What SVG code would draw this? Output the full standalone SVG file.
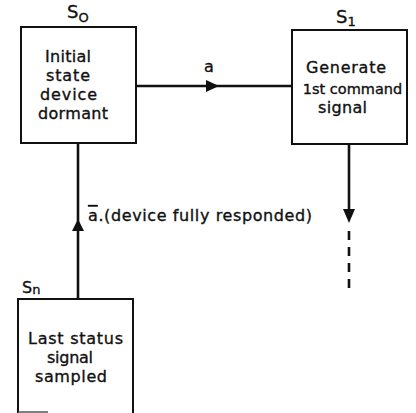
<svg xmlns="http://www.w3.org/2000/svg" width="416" height="413" viewBox="0 0 416 413">
<style>
.box{fill:#fff;stroke:#111;stroke-width:2}
.ln{stroke:#111;stroke-width:2.6;fill:none}
.hd{fill:#111}
text{font-family:"DejaVu Sans","Liberation Sans",sans-serif;fill:#111;stroke:#111;stroke-width:0.35}
.t{font-size:16px;text-anchor:middle}
.lab{font-size:18px}
.sub{font-size:13px}
.el{font-size:16px}
</style>
<rect width="416" height="413" fill="#fff"/>
<g id="connectors">
<line class="ln" x1="136" y1="86" x2="292" y2="86"/>
<polygon class="hd" points="206,80 219,86 206,92"/>
<line class="ln" x1="78" y1="143" x2="78" y2="299"/>
<polygon class="hd" points="72,231 78,219 84,231"/>
<line class="ln" x1="349" y1="144" x2="349" y2="215"/>
<polygon class="hd" points="343,209 349,223 355,209"/>
<line class="ln" x1="349" y1="231" x2="349" y2="289" stroke-dasharray="9,7"/>
<text class="el" x="204" y="72">a</text>
<text class="el" x="88" y="221" textLength="224" lengthAdjust="spacing"><tspan style="text-decoration:overline">a</tspan>.(device fully responded)</text>
</g>
<g id="s0">
<rect class="box" x="21" y="27" width="115" height="116"/>
<text class="lab" x="67" y="18">S<tspan class="sub" dy="4">O</tspan></text>
<text class="t" x="68" y="62" textLength="46" lengthAdjust="spacing">Initial</text>
<text class="t" x="68" y="81" textLength="44" lengthAdjust="spacing">state</text>
<text class="t" x="68.5" y="100" textLength="57" lengthAdjust="spacing">device</text>
<text class="t" x="73" y="119" textLength="70" lengthAdjust="spacing">dormant</text>
</g>
<g id="s1">
<rect class="box" x="292" y="30" width="115" height="114"/>
<text class="lab" x="336" y="23">S<tspan class="sub" dy="3">1</tspan></text>
<text class="t" x="346" y="73" textLength="80" lengthAdjust="spacing">Generate</text>
<text class="t" x="352.5" y="94" style="font-size:14.5px">1st command</text>
<text class="t" x="342.5" y="113" textLength="49" lengthAdjust="spacing">signal</text>
</g>
<g id="sn">
<path class="box" d="M18,413 V299 H133 V413" fill="none"/>
<line x1="18" y1="412" x2="48" y2="412" stroke="#555" stroke-width="1.5"/>
<text class="lab" x="22" y="293" style="font-size:16px">S<tspan class="sub" dy="1">n</tspan></text>
<text class="t" x="75.5" y="344" textLength="95" lengthAdjust="spacing">Last status</text>
<text class="t" x="70" y="363" textLength="46" lengthAdjust="spacing">signal</text>
<text class="t" x="71" y="382" textLength="72" lengthAdjust="spacing">sampled</text>
</g>
</svg>
